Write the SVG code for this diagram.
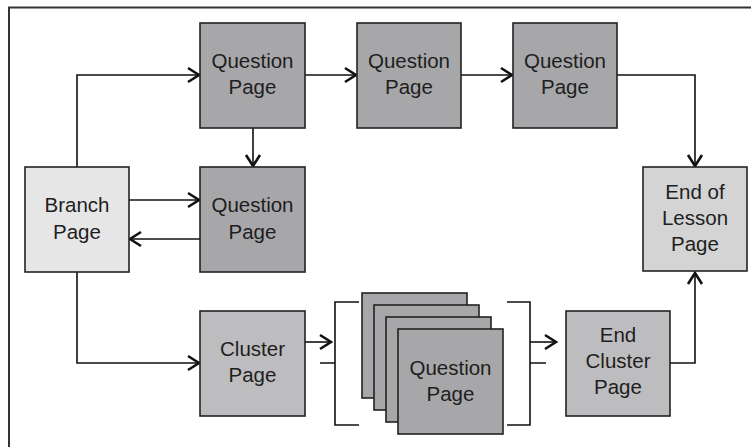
<svg xmlns="http://www.w3.org/2000/svg" width="751" height="447" viewBox="0 0 751 447">
<defs>
<marker id="arr" markerUnits="userSpaceOnUse" viewBox="-14 -9 16 18" refX="0" refY="0" markerWidth="16" markerHeight="18" orient="auto">
<path d="M-11,-7 L0,0 L-11,7" fill="none" stroke="#111" stroke-width="2.6" stroke-linejoin="miter"/>
</marker>
</defs>
<style>
text{font-family:"Liberation Sans",Arial,sans-serif;font-size:20.5px;fill:#1e1e1e;text-anchor:middle}
.box{stroke:#222;stroke-width:1.6}
.q{fill:#a7a7a9}
.br{fill:#e6e6e7}
.cl{fill:#bdbdbf}
.eol{fill:#d4d4d5}
.c{fill:none;stroke:#111;stroke-width:1.6}
.a{marker-end:url(#arr)}
.frame{fill:none;stroke:#333;stroke-width:2}
</style>
<rect width="751" height="447" fill="#fff"/>
<path class="frame" d="M9,447 V7.5 H751"/>

<g id="connectors">
<path class="c a" d="M77,167 V75 H199"/>
<path class="c a" d="M305,75 H356"/>
<path class="c a" d="M461,75 H512"/>
<path class="c a" d="M617,75 H695 V166"/>
<path class="c a" d="M253,128 V166"/>
<path class="c a" d="M129,200 H199"/>
<path class="c a" d="M200,239 H130"/>
<path class="c a" d="M77,272 V363 H199"/>
<path class="c a" d="M305,342 H331"/>
<path class="c a" d="M530,342 H556"/>
<path class="c a" d="M670,363 H695 V273"/>
<path class="c" d="M359,302 H335 V425 H359 M335,363 H320"/>
<path class="c" d="M507,302 H530 V425 H507 M530,363 H546"/>
</g>

<g id="q1"><rect class="box q" x="200" y="23" width="105" height="105"/><text x="252.5" y="68">Question</text><text x="252.5" y="94">Page</text></g>
<g id="q2"><rect class="box q" x="357" y="23" width="104" height="105"/><text x="409" y="68">Question</text><text x="409" y="94">Page</text></g>
<g id="q3"><rect class="box q" x="513" y="23" width="104" height="105"/><text x="565" y="68">Question</text><text x="565" y="94">Page</text></g>
<g id="branch"><rect class="box br" x="25" y="167" width="104" height="105"/><text x="77" y="212">Branch</text><text x="77" y="239">Page</text></g>
<g id="q4"><rect class="box q" x="200" y="167" width="105" height="105"/><text x="252.5" y="212">Question</text><text x="252.5" y="239">Page</text></g>
<g id="eol"><rect class="box eol" x="643" y="167" width="104" height="104"/><text x="695" y="199">End of</text><text x="695" y="225">Lesson</text><text x="695" y="251">Page</text></g>
<g id="cluster"><rect class="box cl" x="200" y="311" width="105" height="105"/><text x="252.5" y="356">Cluster</text><text x="252.5" y="382">Page</text></g>
<g id="stack">
<rect class="box q" x="362" y="293" width="105" height="105"/>
<rect class="box q" x="374" y="305" width="105" height="105"/>
<rect class="box q" x="386" y="317" width="105" height="105"/>
<rect class="box q" x="398" y="329" width="105" height="105"/>
<text x="450.5" y="375">Question</text><text x="450.5" y="401">Page</text>
</g>
<g id="endcluster"><rect class="box cl" x="566" y="311" width="104" height="105"/><text x="618" y="342">End</text><text x="618" y="368">Cluster</text><text x="618" y="394">Page</text></g>
</svg>
